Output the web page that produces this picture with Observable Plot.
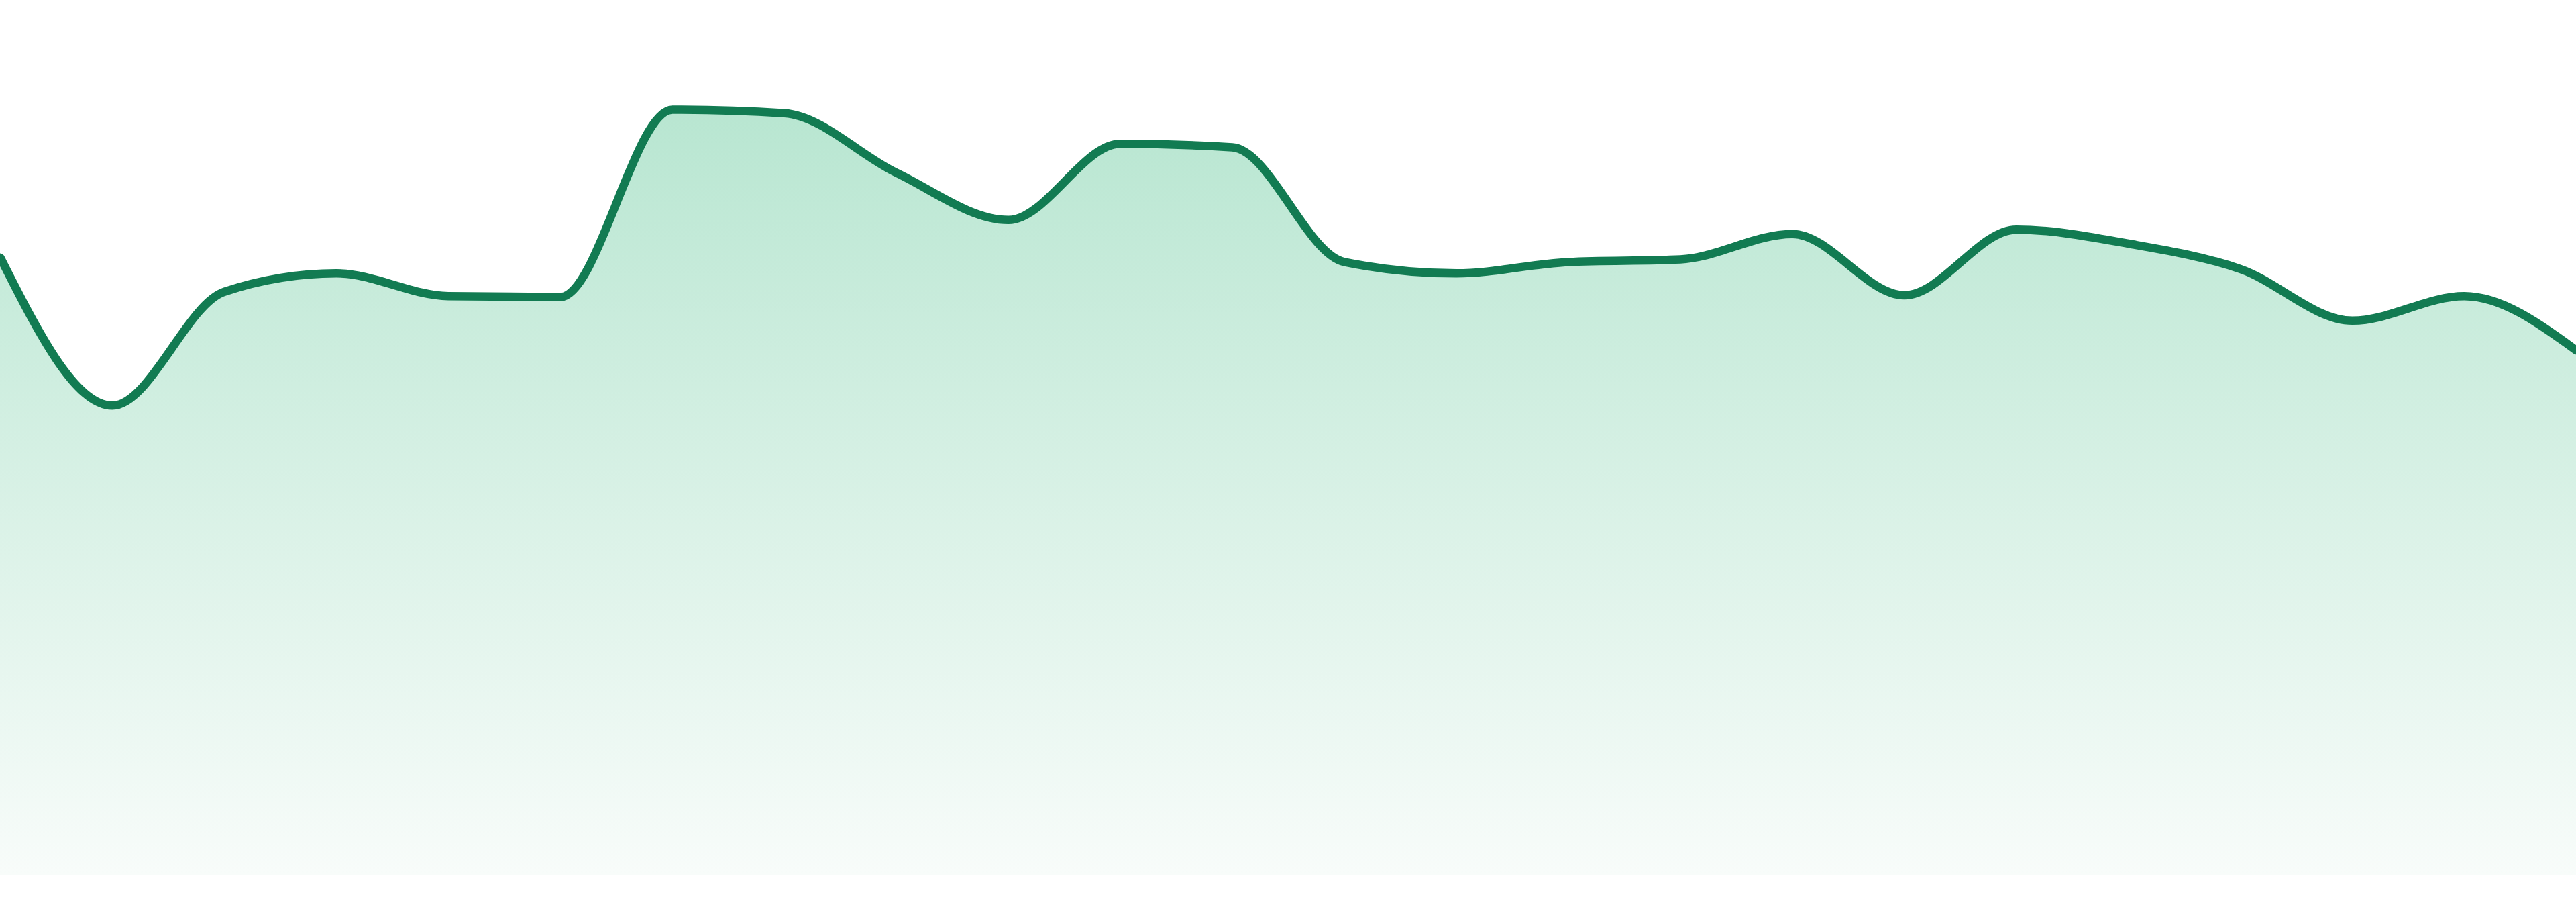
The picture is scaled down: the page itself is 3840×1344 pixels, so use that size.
<!DOCTYPE html>
<html>
<head>
<meta charset="utf-8">
<script src="https://cdn.jsdelivr.net/npm/d3@7"></script>
<script src="https://cdn.jsdelivr.net/npm/@observablehq/plot@0.6"></script>
<style>
  html, body { margin: 0; padding: 0; background: #ffffff; overflow: hidden; }
  #chart svg { display: block; }
</style>
</head>
<body>
<div id="chart"></div>
<script>
// Data (index along x, value on a 0–100 scale)
const steps = [0, 1, 2, 3, 4, 5, 6, 7, 8, 9, 10, 11, 12, 13, 14, 15, 16, 17, 18, 19, 20, 21, 22, 23];
const values = [70.6, 53.7, 66.7, 68.8, 66.2, 66.1, 87.5, 87.1, 80.3, 74.9, 83.6, 83.2,
                70.1, 68.8, 70.1, 70.4, 73.3, 66.3, 73.8, 72.2, 69.3, 63.4, 66.2, 60.0];

const lineColor = "#127b52";
const gradTop = "#b8e6d1";
const gradBottom = "#f8fcfa";

const data = steps.map((s, i) => ({step: s, value: values[i]}));

const chart = Plot.plot({
  width: 3840,
  height: 1344,
  marginTop: 0,
  marginBottom: 40,
  marginLeft: 0,
  marginRight: 0,
  x: {domain: [0, 23], axis: null},
  y: {domain: [0, 100], axis: null},
  marks: [
    Plot.areaY(data, {x: "step", y: "value", curve: "monotone-x", fill: "url(#areaGrad)"}),
    Plot.lineY(data, {x: "step", y: "value", curve: "monotone-x", stroke: lineColor, strokeWidth: 12.5})
  ]
});

const defs = d3.select(chart).insert("defs", ":first-child");
const grad = defs.append("linearGradient")
  .attr("id", "areaGrad")
  .attr("x1", 0).attr("y1", 0).attr("x2", 0).attr("y2", 1);
grad.append("stop").attr("offset", "0%").attr("stop-color", gradTop);
grad.append("stop").attr("offset", "100%").attr("stop-color", gradBottom);

document.getElementById("chart").appendChild(chart);
</script>
</body>
</html>
